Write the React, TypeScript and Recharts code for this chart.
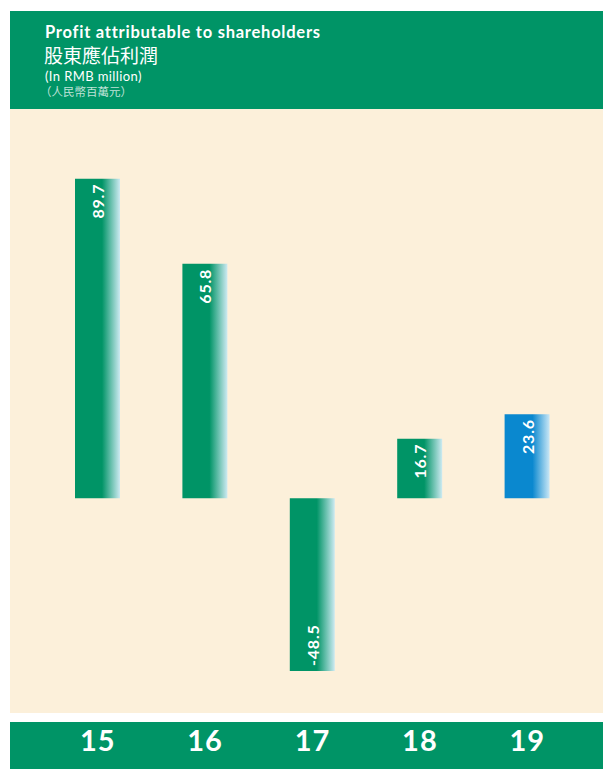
import React from 'react';
import { BarChart, Bar, XAxis, YAxis, LabelList, Cell } from 'recharts';

const years = ['15', '16', '17', '18', '19'];
const profits = [89.7, 65.8, -48.5, 16.7, 23.6];
const highlight = [false, false, false, false, true];

const titleEn = 'Profit attributable to shareholders';
const titleZh = '股東應佔利潤';
const unitEn = '(In RMB million)';
const unitZh = '（人民幣百萬元）';

const data = years.map((y, i) => ({ year: y, value: profits[i], hl: highlight[i] }));

const GREEN = '#009466';
const CREAM = '#FCF0DA';
const FONT = 'Lato, "Open Sans", sans-serif';

const ValueLabel = (props: any) => {
  const { x, y, width, height, value } = props;
  const top = Math.min(y, y + height);
  const bottom = Math.max(y, y + height);
  const cx = x + width / 2;
  const neg = value < 0;
  const ty = neg ? bottom - 5 : top + 5;
  return (
    <text
      x={cx}
      y={ty}
      transform={`rotate(-90, ${cx}, ${ty})`}
      textAnchor={neg ? 'start' : 'end'}
      dominantBaseline="central"
      fill="#fff"
      fontFamily={FONT}
      fontWeight={700}
      fontSize={16}
      letterSpacing={0.8}
    >
      {value}
    </text>
  );
};

const YearTick = (props: any) => {
  const { x, y, payload } = props;
  return (
    <text
      x={x}
      y={y + 39}
      textAnchor="middle"
      fill="#fff"
      fontFamily={FONT}
      fontWeight={700}
      fontSize={29}
      letterSpacing={1}
    >
      {payload.value}
    </text>
  );
};

export default function App() {
  return (
    <div style={{ position: 'absolute', left: 0, top: 0, width: 603, height: 769, background: '#fff', overflow: 'hidden' }}>
      <div style={{ position: 'absolute', left: 10, top: 11, width: 593, height: 98, background: GREEN }} />
      <div style={{ position: 'absolute', left: 10, top: 109, width: 593, height: 604, background: CREAM }} />
      <div style={{ position: 'absolute', left: 10, top: 722, width: 593, height: 47, background: GREEN }} />
      <div style={{ position: 'absolute', left: 45, top: 22, color: '#fff', fontFamily: FONT, fontWeight: 700, fontSize: 16.5, letterSpacing: 0.75, lineHeight: '20px', whiteSpace: 'nowrap' }}>{titleEn}</div>
      <div style={{ position: 'absolute', left: 44, top: 43, color: '#fff', fontFamily: '"Noto Sans CJK TC", sans-serif', fontSize: 19, lineHeight: '23px', whiteSpace: 'nowrap' }}>{titleZh}</div>
      <div style={{ position: 'absolute', left: 45, top: 68, color: '#fff', fontFamily: FONT, fontWeight: 400, fontSize: 13, letterSpacing: 0.4, lineHeight: '16px', whiteSpace: 'nowrap' }}>{unitEn}</div>
      <div style={{ position: 'absolute', left: 40, top: 84, color: 'rgba(255,255,255,0.75)', fontFamily: '"Noto Sans CJK TC", sans-serif', fontSize: 11.5, lineHeight: '15px', whiteSpace: 'nowrap' }}>{unitZh}</div>
      <div style={{ position: 'absolute', left: 10, top: 109 }}>
        <BarChart width={593} height={660} data={data} margin={{ top: 33, right: 22, bottom: 0, left: 34 }} barCategoryGap={31}>
          <defs>
            <linearGradient id="gGreen" x1="0" y1="0" x2="1" y2="0">
              <stop offset="0" stopColor={GREEN} />
              <stop offset="0.6" stopColor={GREEN} />
              <stop offset="1" stopColor="#CDEAF2" />
            </linearGradient>
            <linearGradient id="gBlue" x1="0" y1="0" x2="1" y2="0">
              <stop offset="0" stopColor="#0A88CF" />
              <stop offset="0.62" stopColor="#0A88CF" />
              <stop offset="1" stopColor="#C9E7F6" />
            </linearGradient>
          </defs>
          <YAxis hide domain={[-60, 100]} />
          <XAxis dataKey="year" axisLine={false} tickLine={false} tickSize={0} tickMargin={0} height={57} interval={0} tick={<YearTick />} />
          <Bar dataKey="value" barSize={45} isAnimationActive={false}>
            {data.map((d, i) => (
              <Cell key={i} fill={d.hl ? 'url(#gBlue)' : 'url(#gGreen)'} />
            ))}
            <LabelList dataKey="value" content={<ValueLabel />} />
          </Bar>
        </BarChart>
      </div>
    </div>
  );
}
